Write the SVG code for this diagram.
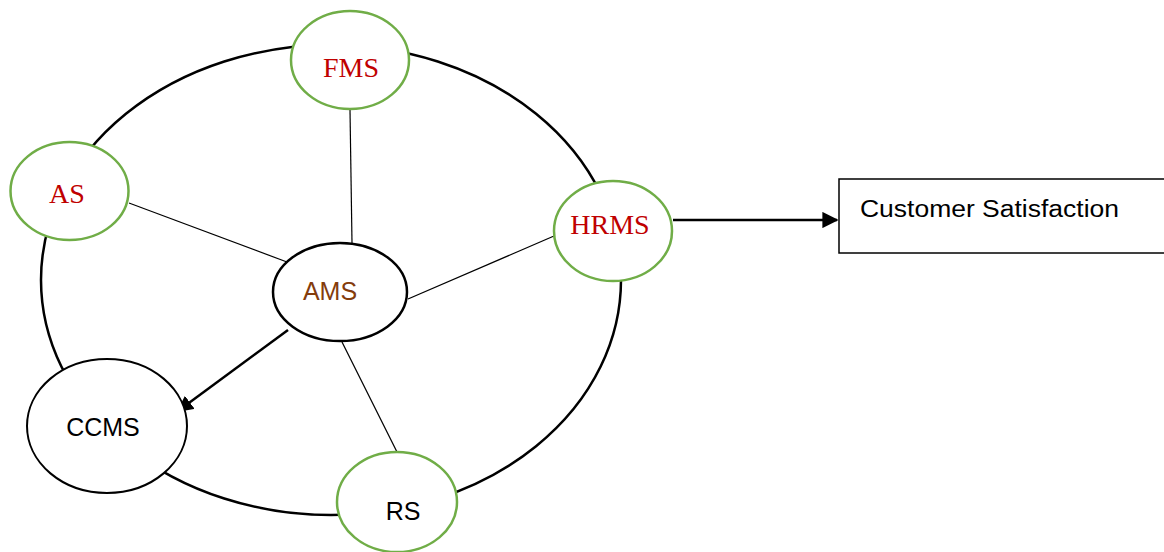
<svg xmlns="http://www.w3.org/2000/svg" width="1164" height="552" viewBox="0 0 1164 552">
<style>
.ring{fill:none;stroke:#000;stroke-width:2.5}
.g{fill:#fff;stroke:#70AD47;stroke-width:2.5}
.b{fill:#fff;stroke:#000;stroke-width:2.5}
.thin{stroke:#000;stroke-width:1.2;fill:none}
.thick{stroke:#000;stroke-width:2.5;fill:none}
.serif{font-family:"Liberation Serif","Times New Roman",serif;font-size:28px;fill:#C00000;text-anchor:middle}
.sans{font-family:"Liberation Sans",Arial,sans-serif;font-size:25px;text-anchor:middle}
</style>
<defs>
<marker id="ah" viewBox="0 0 10 10" refX="9" refY="5" markerWidth="6.5" markerHeight="6.5" orient="auto" markerUnits="strokeWidth">
<path d="M0,0 L10,5 L0,10 z" fill="#000"/>
</marker>
</defs>
<rect width="1164" height="552" fill="#fff"/>
<ellipse class="ring" cx="331" cy="280" rx="290" ry="235"/>
<g id="connectors">
<line class="thin" x1="350" y1="110" x2="352" y2="243"/>
<line class="thin" x1="129" y1="203" x2="287" y2="262"/>
<line class="thin" x1="554" y1="236" x2="408" y2="299"/>
<line class="thin" x1="342" y1="342" x2="397" y2="452"/>
<line class="thick" x1="288" y1="330" x2="178" y2="411" marker-end="url(#ah)"/>
<line class="thick" x1="673" y1="220" x2="837" y2="220" marker-end="url(#ah)"/>
</g>
<g id="FMS">
<ellipse class="g" cx="350" cy="60" rx="59" ry="49"/>
<text class="serif" x="351" y="77">FMS</text>
</g>
<g id="AS">
<ellipse class="g" cx="69.500" cy="191" rx="59" ry="49"/>
<text class="serif" x="67" y="203">AS</text>
</g>
<g id="HRMS">
<ellipse class="g" cx="613" cy="231" rx="59" ry="50"/>
<text class="serif" x="610" y="234">HRMS</text>
</g>
<g id="AMS">
<ellipse class="b" cx="340" cy="292" rx="67" ry="49"/>
<text class="sans" x="330" y="300" fill="#843C0C">AMS</text>
</g>
<g id="CCMS">
<ellipse cx="107" cy="426" rx="80" ry="67" fill="#fff" stroke="#000" stroke-width="2"/>
<text class="sans" x="103" y="436" fill="#000">CCMS</text>
</g>
<g id="RS">
<ellipse class="g" cx="397" cy="502" rx="60" ry="50"/>
<text class="sans" x="403" y="520" fill="#000">RS</text>
</g>
<g id="CustomerSatisfaction">
<rect x="839" y="179" width="326" height="74" fill="#fff" stroke="#000" stroke-width="1.5"/>
<text x="860" y="217" font-family="'Liberation Sans',Arial,sans-serif" font-size="23" textLength="259" lengthAdjust="spacingAndGlyphs" fill="#000">Customer Satisfaction</text>
</g>
</svg>
